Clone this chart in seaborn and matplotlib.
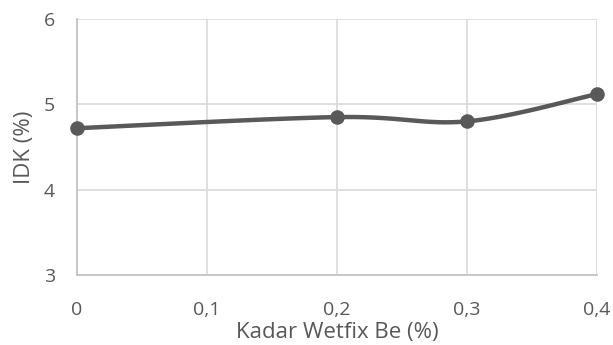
import numpy as np
import pandas as pd
import matplotlib
matplotlib.use("Agg")
import matplotlib.pyplot as plt
import seaborn as sns

# data
kadar = [0.0, 0.2, 0.3, 0.4]
idk = [4.72, 4.85, 4.80, 5.12]
x_ticks = [0, 0.1, 0.2, 0.3, 0.4]
y_ticks = [3, 4, 5, 6]

GREY = "#595959"


def excel_smooth(x, y, n=40):
    # cubic bezier segments like Excel's "smoothed line"
    p = np.column_stack([x, y])
    p = np.vstack([p[0], p, p[-1]])
    out = []
    for i in range(1, len(p) - 2):
        p0, p3 = p[i], p[i + 1]
        c1 = p0 + (p[i + 1] - p[i - 1]) / 6
        c2 = p3 - (p[i + 2] - p[i]) / 6
        t = np.linspace(0, 1, n)[:, None]
        seg = ((1 - t) ** 3) * p0 + 3 * ((1 - t) ** 2) * t * c1 \
            + 3 * (1 - t) * t ** 2 * c2 + t ** 3 * p3
        out.append(seg if i == 1 else seg[1:])
    return np.vstack(out)


sns.set_theme(style="white")
plt.rcParams["font.family"] = ["Open Sans", "DejaVu Sans"]

df = pd.DataFrame({"kadar": kadar, "idk": idk})
curve = excel_smooth(kadar, idk)
smooth = pd.DataFrame({"kadar": curve[:, 0], "idk": curve[:, 1]})

fig = plt.figure(figsize=(6.13, 3.45), dpi=100)
ax = fig.add_axes([0.1256, 0.203, 0.8484, 0.742])

sns.lineplot(data=smooth, x="kadar", y="idk", ax=ax, color=GREY,
             linewidth=3.2, sort=False, estimator=None, zorder=3)
sns.scatterplot(data=df, x="kadar", y="idk", ax=ax, color=GREY,
                s=110, edgecolor=GREY, linewidth=0, zorder=4, clip_on=False)

ax.set_xlim(0, 0.4)
ax.set_ylim(3, 6)
ax.set_xticks(x_ticks)
ax.set_yticks(y_ticks)
ax.set_xticklabels([("%g" % v).replace(".", ",") for v in x_ticks])
ax.set_yticklabels([str(v) for v in y_ticks])

ax.grid(True, color="#d9d9d9", linewidth=1.2)
ax.set_axisbelow(True)
for side in ["top", "right"]:
    ax.spines[side].set_visible(False)
for side in ["left", "bottom"]:
    ax.spines[side].set_color("#c4c4c4")
    ax.spines[side].set_linewidth(1.3)

ax.tick_params(axis="x", length=0, pad=19, labelsize=14, labelcolor=GREY)
ax.tick_params(axis="y", length=0, pad=16, labelsize=14, labelcolor=GREY)
ax.set_xlabel("Kadar Wetfix Be (%)", fontsize=16, color=GREY, labelpad=2)
ax.set_ylabel("IDK (%)", fontsize=16, color=GREY, labelpad=6)

fig.savefig("out.png", dpi=100)
